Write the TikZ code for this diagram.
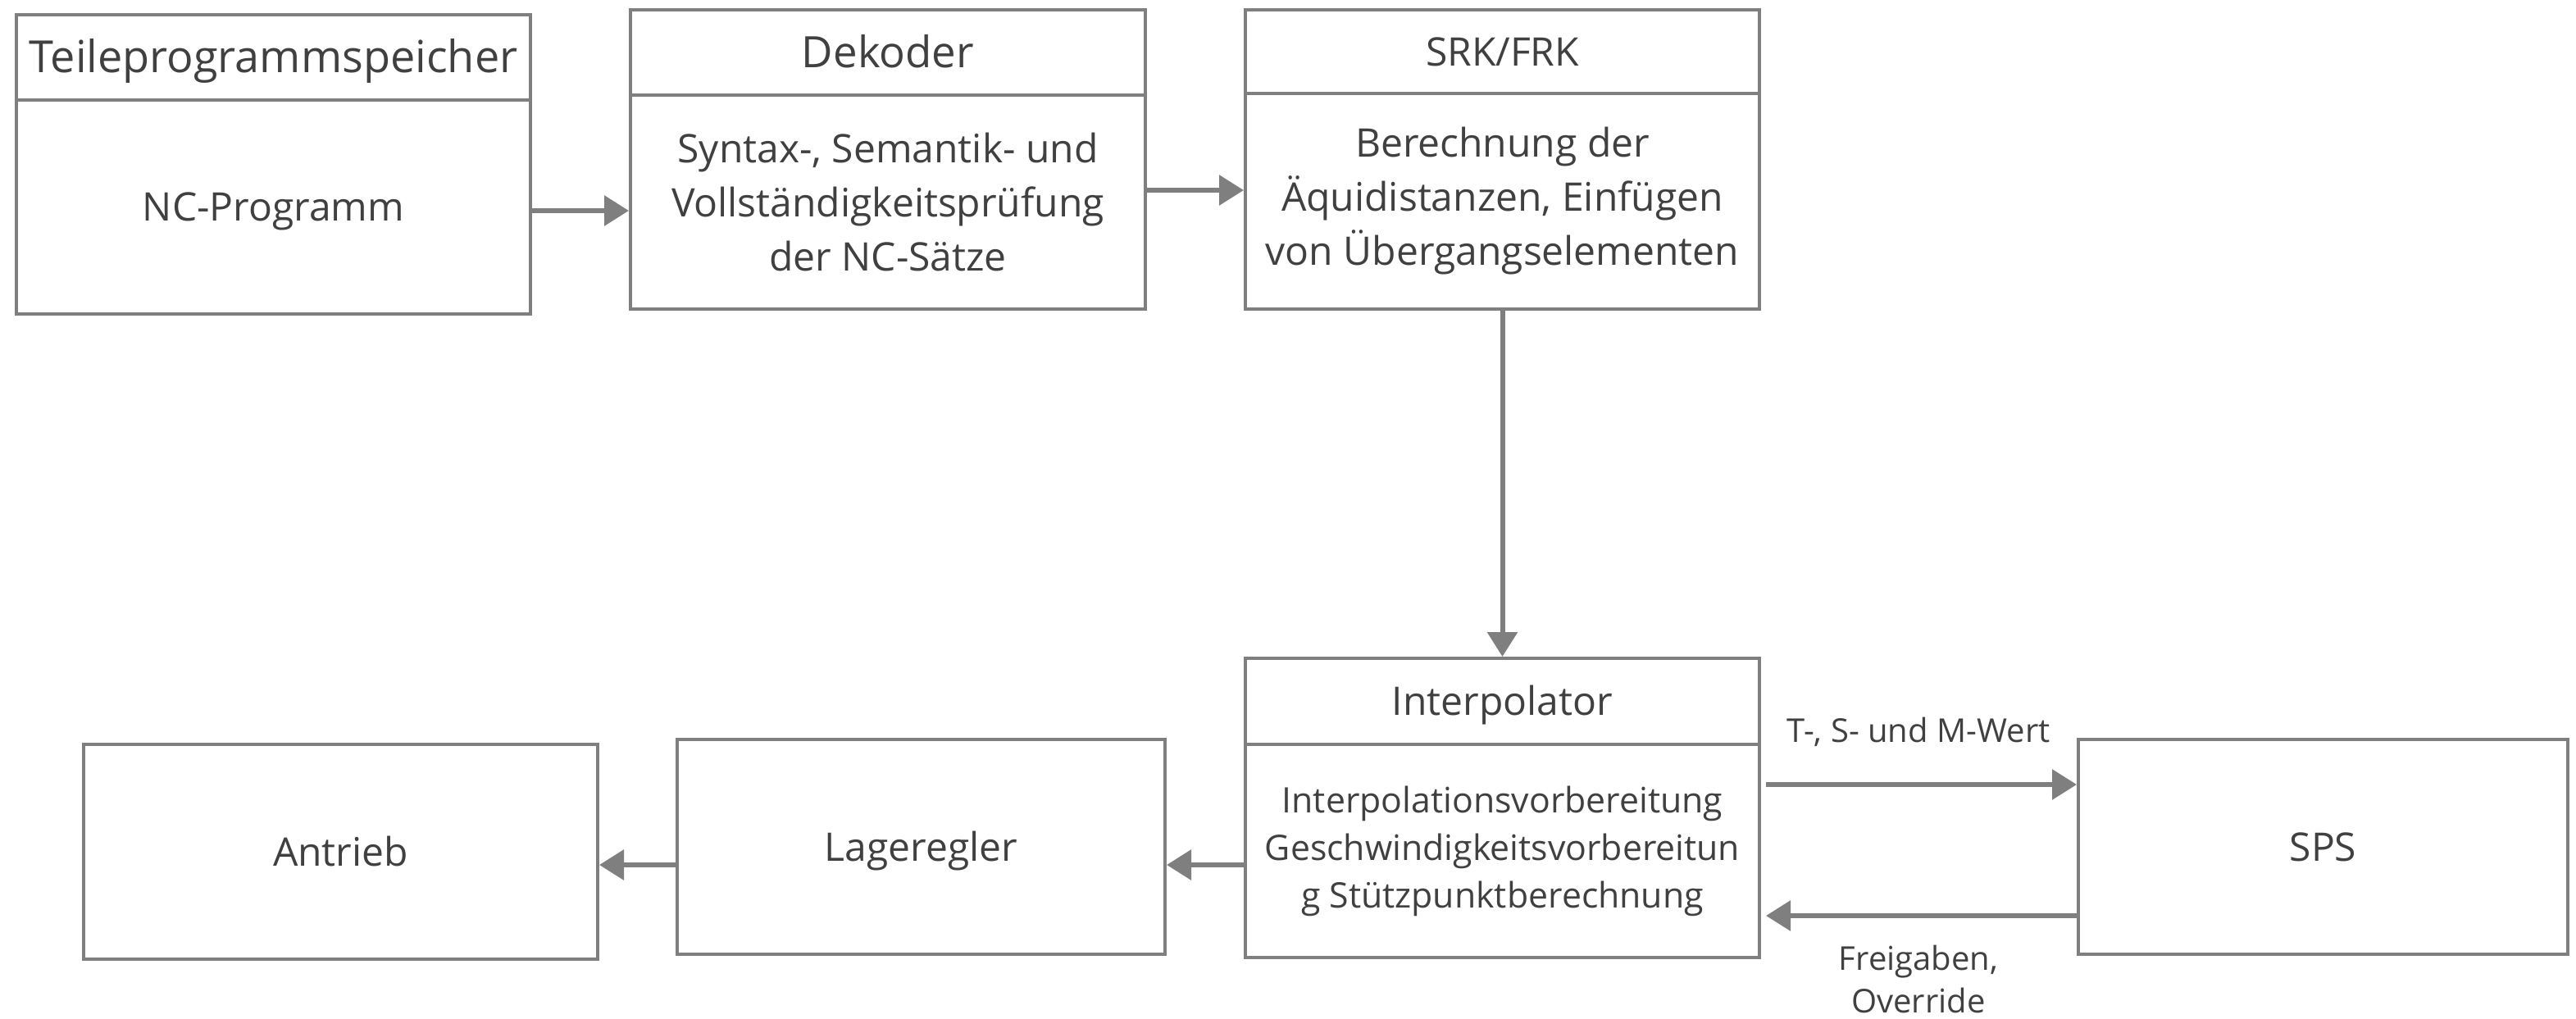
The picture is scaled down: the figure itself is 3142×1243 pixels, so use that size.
\documentclass[tikz,border=0pt]{standalone}
\usepackage{fontspec}
\setmainfont{Open Sans}
\usetikzlibrary{arrows.meta,calc}
\definecolor{edgegray}{HTML}{7F7F7F}
\definecolor{txtgray}{HTML}{404040}
\begin{document}
\begin{tikzpicture}[x=0.25pt,y=-0.25pt,
  blk/.style={draw=edgegray,line width=1pt,fill=white,text=txtgray,inner sep=0pt,anchor=north west,align=center},
  sz/.style 2 args={minimum width=#1*0.25pt,minimum height=#2*0.25pt},
  ttlbig/.style={font=\fontsize{13.2}{17}\selectfont,text height=12.7pt,text depth=3.3pt},
  txtstd/.style={font=\fontsize{12}{16.5}\selectfont},
  oneline/.style={text height=11.55pt,text depth=3pt},
  txtsm/.style={font=\fontsize{10.7}{14.5}\selectfont},
  lbl/.style={text=txtgray,font=\fontsize{10}{13}\selectfont,align=center,inner sep=0pt},
  conn/.style={draw=edgegray,line width=1.5pt,-{Triangle[length=7.5pt,width=9pt]}}]
\useasboundingbox (0,0) rectangle (3142,1243);

% upper row: program memory, decoder, cutter/tool radius compensation
\node[blk,sz={627}{104},ttlbig,font=\fontsize{13.5}{17}\selectfont] (tps_t) at (18,16) {Teileprogrammspeicher};
\node[blk,sz={627}{261},txtstd,oneline] (tps_b) at (18,120) {NC-Programm};

\node[blk,sz={628}{104},ttlbig] (dek_t) at (767,10) {Dekoder};
\node[blk,sz={628}{261},txtstd] (dek_b) at (767,114) {Syntax-, Semantik- und\\Vollständigkeitsprüfung\\der NC-Sätze};

\node[blk,sz={627}{102},txtstd,oneline] (srk_t) at (1517,10) {SRK/FRK};
\node[blk,sz={627}{263},txtstd] (srk_b) at (1517,112) {Berechnung der\\Äquidistanzen, Einfügen\\von Übergangselementen};

% lower row: interpolator, PLC, position control, drive
\node[blk,sz={627}{105},txtstd,oneline] (ip_t) at (1517,801) {Interpolator};
\node[blk,sz={627}{260},txtsm] (ip_b) at (1517,906) {Interpolationsvorbereitung\\Geschwindigkeitsvorbereitun\\g Stützpunktberechnung};

\node[blk,sz={597}{262},txtstd,oneline] (sps) at (2533,900) {SPS};
\node[blk,sz={595}{262},txtstd,oneline] (lr) at (824,900) {Lageregler};
\node[blk,sz={627}{262},txtstd,oneline] (ant) at (100,906) {Antrieb};

% signal flow
\coordinate (a1) at ($(tps_b.east)+(0,4.5)$);
\draw[conn] (a1) -- (a1 -| dek_b.west);
\coordinate (a2) at ($(dek_b.east)+(0,-14.5)$);
\draw[conn] (a2) -- (a2 -| srk_b.west);
\draw[conn] (srk_b.south) -- (ip_t.north);

\coordinate (t_from) at ($(ip_b.east)+(6,-81)$);
\draw[conn] (t_from) -- (t_from -| sps.west);
\coordinate (f_to) at ($(ip_b.east)+(6,79)$);
\draw[conn] (f_to -| sps.west) -- (f_to);

\coordinate (a6) at ($(ip_b.west)+(0,17)$);
\draw[conn] (a6) -- (a6 -| lr.east);
\coordinate (a7) at ($(lr.west)+(0,22)$);
\draw[conn] (a7) -- (a7 -| ant.east);

% connector labels
\node[lbl] (lbl_t) at (2340,893) {T-, S- und M-Wert};
\node[lbl] (lbl_f) at (2340,1194) {Freigaben,\\Override};
\end{tikzpicture}
\end{document}
